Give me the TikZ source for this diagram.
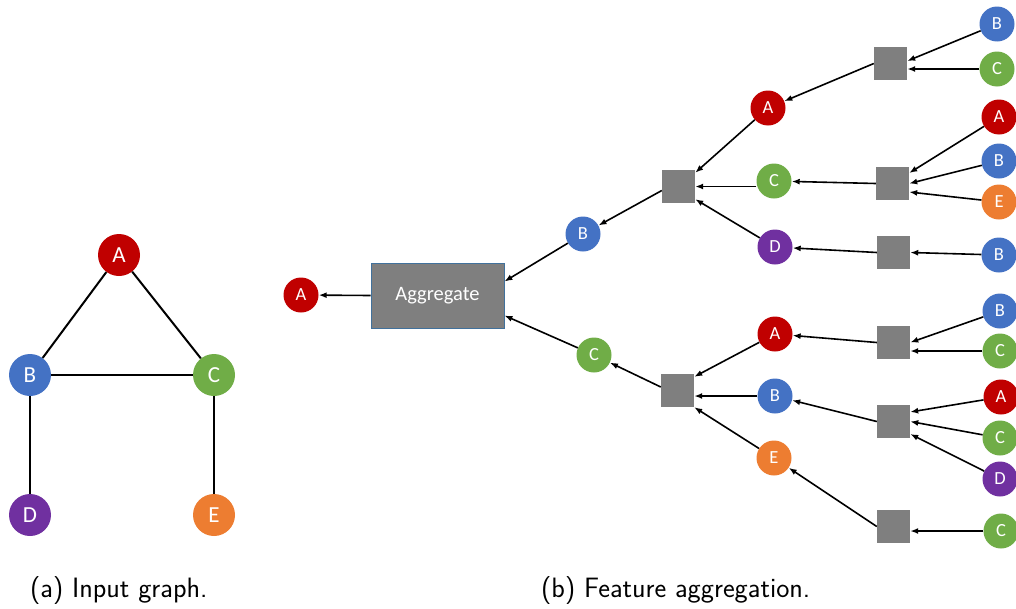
\documentclass[tikz,border=0pt]{standalone}
\usepackage{fontspec}
\setmainfont{Carlito}
\usetikzlibrary{arrows.meta}
\definecolor{cA}{HTML}{C00000}
\definecolor{cB}{HTML}{4472C4}
\definecolor{cC}{HTML}{70AD47}
\definecolor{cD}{HTML}{7030A0}
\definecolor{cE}{HTML}{ED7D31}
\definecolor{sqgray}{HTML}{7F7F7F}
\definecolor{aggborder}{HTML}{41719C}
\begin{document}
\begin{tikzpicture}[x=1pt,y=-1pt,
  big/.style={circle,minimum size=42pt,inner sep=0pt,text=white,font=\fontsize{23}{23}\selectfont},
  sn/.style={circle,minimum size=35pt,inner sep=0pt,text=white,font=\fontsize{18.5}{18.5}\selectfont},
  gA/.style={big,fill=cA}, gB/.style={big,fill=cB}, gC/.style={big,fill=cC},
  gD/.style={big,fill=cD}, gE/.style={big,fill=cE},
  nA/.style={sn,fill=cA}, nB/.style={sn,fill=cB}, nC/.style={sn,fill=cC},
  nD/.style={sn,fill=cD}, nE/.style={sn,fill=cE},
  sqbox/.style={fill=sqgray,minimum size=33pt,inner sep=0pt},
  arr/.style={-{Latex[length=8pt,width=6pt]},line width=1.6pt},
  gedge/.style={line width=2pt},
  captext/.style={font=\sffamily\fontsize{28}{32}\selectfont,anchor=west,inner sep=0pt}]
\useasboundingbox (0,0) rectangle (1016,608);

% ---------- (a) input graph
\node[gA] (gA) at (119,255) {A};
\node[gB] (gB) at (30,375) {B};
\node[gC] (gC) at (214,375) {C};
\node[gD] (gD) at (30,515) {D};
\node[gE] (gE) at (214,515) {E};
\draw[gedge] (gA) -- (gB);
\draw[gedge] (gA) -- (gC);
\draw[gedge] (gB) -- (gC);
\draw[gedge] (gB) -- (gD);
\draw[gedge] (gC) -- (gE);

% ---------- (b) feature aggregation
\node[nA] (r) at (301,295) {A};
\node[fill=sqgray,draw=aggborder,line width=0.8pt,minimum width=133pt,minimum height=65pt,inner sep=0pt,
  text=white,font=\fontsize{20.5}{20.5}\selectfont] (agg) at (437.5,295.5) {Aggregate};

\node[nB] (b1) at (583,234) {B};
\node[nC] (c1) at (594,355) {C};

\node[sqbox] (s1) at (678.5,186.5) {};
\node[sqbox] (s2) at (677.5,390.5) {};

\node[nA] (a2) at (768,108) {A};
\node[nC] (c2) at (774,181) {C};
\node[nD] (d2) at (775,247) {D};
\node[nA] (a3) at (775,334) {A};
\node[nB] (b3) at (775,396) {B};
\node[nE] (e3) at (774,458) {E};

\node[sqbox] (t1) at (890.5,63.5) {};
\node[sqbox] (t2) at (892.5,183.5) {};
\node[sqbox] (t3) at (893.5,252.5) {};
\node[sqbox] (t4) at (893.5,342.5) {};
\node[sqbox] (t5) at (893.5,421.5) {};
\node[sqbox] (t6) at (893.5,526.5) {};

\node[nB] (t1b) at (997,24) {B};
\node[nC] (t1c) at (997,69) {C};
\node[nA] (t2a) at (999,117) {A};
\node[nB] (t2b) at (999,161) {B};
\node[nE] (t2e) at (999,202) {E};
\node[nB] (t3b) at (999,255) {B};
\node[nB] (t4b) at (1000,311) {B};
\node[nC] (t4c) at (1000,351) {C};
\node[nA] (t5a) at (1001,397) {A};
\node[nC] (t5c) at (1000,438) {C};
\node[nD] (t5d) at (1000,479) {D};
\node[nC] (t6c) at (1001,531) {C};

% arrows level 0/1
\draw[arr] (agg.west) -- (r);
\draw[arr] (b1) -- ([yshift=14pt]agg.east);
\draw[arr] (c1) -- ([yshift=-20pt]agg.east);
\draw[arr] ([yshift=-4pt]s1.west) -- (b1);
\draw[arr] ([yshift=3.5pt]s2.west) -- (c1);

% upper level 2
\draw[arr] (a2) -- ([yshift=-3pt]s1.north east);
\draw[arr] (c2.west |- s1.east) -- (s1.east);
\draw[arr] (d2) -- ([yshift=4pt]s1.south east);
% lower level 2
\draw[arr] (a3) -- ([yshift=-3pt]s2.north east);
\draw[arr] (b3.west) -- (s2.east |- b3.west);
\draw[arr] (e3) -- (s2.south east);

% level 3 squares to level 2 nodes
\draw[arr] (t1.west) -- (a2);
\draw[arr] (t2.west) -- (c2);
\draw[arr] (t3.west) -- (d2);
\draw[arr] (t4.west) -- (a3);
\draw[arr] (t5.west) -- (b3);
\draw[arr] (t6.west) -- (e3);

% leaves to level 3 squares
\draw[arr] (t1b) -- ([yshift=2.5pt]t1.east);
\draw[arr] (t1c.west) -- (t1.east |- t1c.west);
\draw[arr] (t2a) -- ([yshift=10.5pt]t2.east);
\draw[arr] (t2b) -- (t2.east);
\draw[arr] (t2e) -- ([yshift=-8.5pt]t2.east);
\draw[arr] (t3b) -- (t3.east);
\draw[arr] (t4b) -- (t4.east);
\draw[arr] (t4c.west) -- (t4.east |- t4c.west);
\draw[arr] (t5a) -- ([yshift=9.5pt]t5.east);
\draw[arr] (t5c) -- (t5.east);
\draw[arr] (t5d) -- ([yshift=-12.5pt]t5.east);
\draw[arr] (t6c.west) -- (t6.east |- t6c.west);

% captions
\node[captext] (capa) at (30,591) {(a) Input graph.};
\node[captext] (capb) at (541,591) {(b) Feature aggregation.};
\end{tikzpicture}
\end{document}
